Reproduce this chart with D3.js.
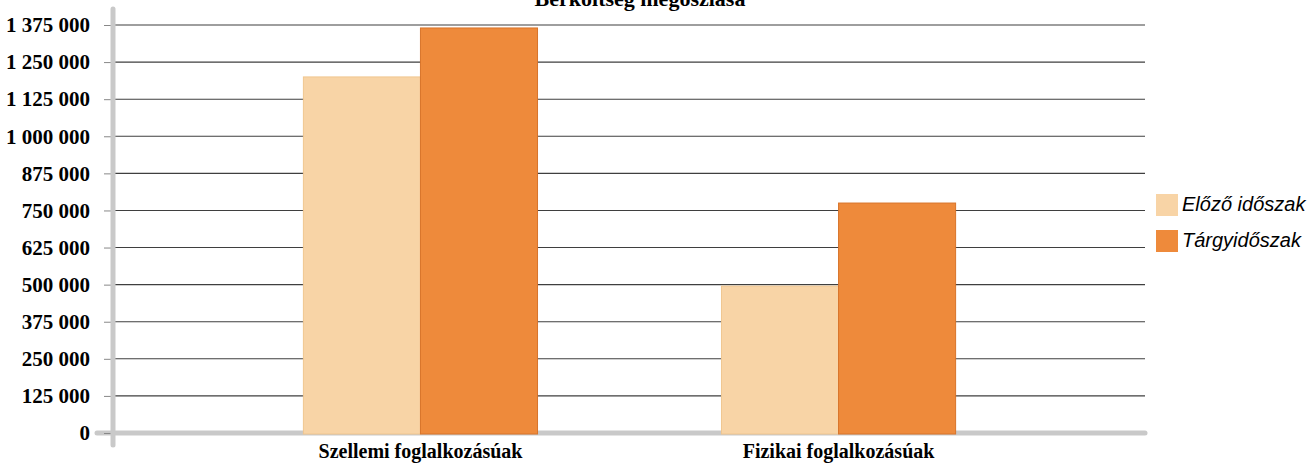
<!DOCTYPE html>
<html>
<head>
<meta charset="utf-8">
<script src="https://cdn.jsdelivr.net/npm/d3@7"></script>
<style>
body{margin:0;background:#fff;}
</style>
</head>
<body>
<svg id="myGraph"></svg>
<script>
var categories=["Szellemi foglalkozásúak","Fizikai foglalkozásúak"];
var seriesNames=["Előző időszak","Tárgyidőszak"];
var elozo=[1200000,495000];
var targy=[1365000,775000];
var tickValues=[0,125000,250000,375000,500000,625000,750000,875000,1000000,1125000,1250000,1375000];
var colors=["#f8d4a6","#ee8a3b"];
var strokes=["#f0c690","#d8742a"];

window.addEventListener("load",function(){
	var svg=d3.select("#myGraph")
	.attr("width",1315)
	.attr("height",466);

	var left=114,right=1145,top=25,bottom=433;

	var yScale=d3.scaleLinear()
	.domain([0,1375000])
	.range([bottom,top]);

	var xScale=d3.scaleBand()
	.domain(categories)
	.range([left,right])
	.paddingInner(0.44)
	.paddingOuter(0.453);

	var xSub=d3.scaleBand()
	.domain(seriesNames)
	.range([0,xScale.bandwidth()]);

	// title (mostly cut off at top)
	svg.append("text")
	.attr("x",640)
	.attr("y",6)
	.attr("text-anchor","middle")
	.style("font-family","Liberation Serif, Times New Roman, serif")
	.style("font-weight","bold")
	.style("font-size","22px")
	.text("Bérköltség megoszlása");

	// gridlines
	svg.append("g")
	.selectAll("line")
	.data(tickValues.filter(function(d){return d>0;}))
	.enter()
	.append("line")
	.attr("x1",left)
	.attr("x2",right)
	.attr("y1",function(d){return yScale(d);})
	.attr("y2",function(d){return yScale(d);})
	.attr("stroke","#3f3f3f")
	.attr("stroke-width",1.1);

	// x axis baseline (thick gray)
	svg.append("line")
	.attr("x1",97)
	.attr("x2",right)
	.attr("y1",yScale(0))
	.attr("y2",yScale(0))
	.attr("stroke","#c9c9c9")
	.attr("stroke-width",5)
	.attr("stroke-linecap","round");

	// bars
	var data=[];
	for(var i=0;i<categories.length;i++){
		data.push({cat:categories[i],s:0,v:elozo[i]});
		data.push({cat:categories[i],s:1,v:targy[i]});
	}
	svg.append("g")
	.selectAll("rect")
	.data(data)
	.enter()
	.append("rect")
	.attr("x",function(d){return xScale(d.cat)+xSub(seriesNames[d.s]);})
	.attr("y",function(d){return yScale(d.v);})
	.attr("width",xSub.bandwidth())
	.attr("height",function(d){return yScale(0)-yScale(d.v)+1;})
	.attr("fill",function(d){return colors[d.s];})
	.attr("stroke",function(d){return strokes[d.s];})
	.attr("stroke-width",1);

	// y axis
	var yAxis=d3.axisLeft(yScale)
	.tickValues(tickValues)
	.tickSize(8)
	.tickPadding(14)
	.tickFormat(function(d){return d3.format(",")(d).replace(/,/g," ");});

	var gy=svg.append("g")
	.attr("transform","translate("+(left-2)+",0)")
	.call(yAxis);
	gy.select(".domain").remove();
	gy.selectAll(".tick line").attr("stroke","#888").attr("stroke-width",1);
	gy.selectAll(".tick text")
	.attr("fill","#000")
	.style("font-family","Liberation Serif, Times New Roman, serif")
	.style("font-weight","bold")
	.style("font-size","21px");

	// y axis line (thick gray)
	svg.append("line")
	.attr("x1",left-1)
	.attr("x2",left-1)
	.attr("y1",9)
	.attr("y2",445)
	.attr("stroke","#c9c9c9")
	.attr("stroke-width",5)
	.attr("stroke-linecap","round");

	// x axis labels
	var xAxis=d3.axisBottom(xScale).tickSize(0).tickPadding(11);
	var gx=svg.append("g")
	.attr("transform","translate(0,"+bottom+")")
	.call(xAxis);
	gx.select(".domain").remove();
	gx.selectAll(".tick text")
	.attr("fill","#000")
	.style("font-family","Liberation Serif, Times New Roman, serif")
	.style("font-weight","bold")
	.style("font-size","20px");

	// legend
	var legend=svg.append("g")
	.selectAll("g")
	.data(seriesNames)
	.enter()
	.append("g")
	.attr("transform",function(d,i){return "translate(1156,"+(194+i*36)+")";});
	legend.append("rect")
	.attr("width",22)
	.attr("height",22)
	.attr("fill",function(d,i){return colors[i];});
	legend.append("text")
	.attr("x",26)
	.attr("y",17)
	.style("font-family","Liberation Sans, Arial, sans-serif")
	.style("font-style","italic")
	.style("font-size","20px")
	.text(function(d){return d;});
});
</script>
</body>
</html>
